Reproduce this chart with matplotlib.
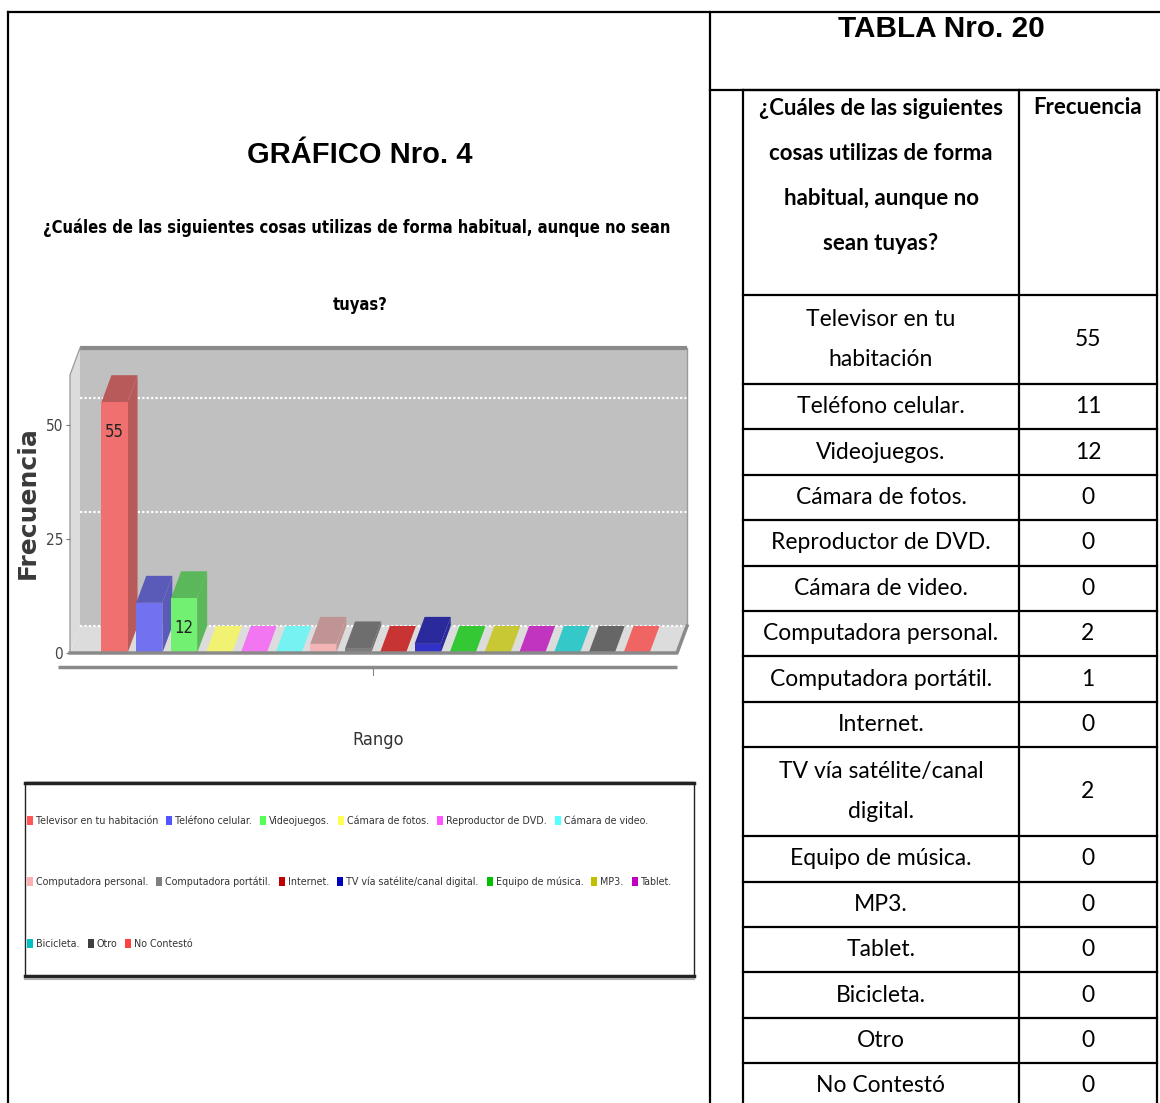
import textwrap
import matplotlib
matplotlib.use("Agg")
import matplotlib.pyplot as plt
from matplotlib import font_manager
from matplotlib.patches import Polygon, Rectangle

# ------------------------------------------------------------
# Data
# ------------------------------------------------------------
categorias = [
    "Televisor en tu habitación", "Teléfono celular.", "Videojuegos.",
    "Cámara de fotos.", "Reproductor de DVD.", "Cámara de video.",
    "Computadora personal.", "Computadora portátil.", "Internet.",
    "TV vía satélite/canal digital.", "Equipo de música.", "MP3.",
    "Tablet.", "Bicicleta.", "Otro", "No Contestó",
]
frecuencias = [55, 11, 12, 0, 0, 0, 2, 1, 0, 2, 0, 0, 0, 0, 0, 0]
yticks = [0, 25, 50]

titulo_grafico = "GRÁFICO Nro. 4"
pregunta = "¿Cuáles de las siguientes cosas utilizas de forma habitual, aunque no sean\ntuyas?"
titulo_tabla = "TABLA Nro. 20"
encabezado = ["¿Cuáles de las siguientes\ncosas utilizas de forma\nhabitual, aunque no\nsean tuyas?", "Frecuencia"]
eje_x = "Rango"
eje_y = "Frecuencia"

# colours (legend swatches and shaded 3D bars)
col_leyenda = ["#FF5555", "#5555FF", "#55FF55", "#FFFF55", "#FF55FF", "#55FFFF",
               "#FFAFAF", "#808080", "#C00000", "#0000C0", "#00C000", "#C0C000",
               "#C000C0", "#00C0C0", "#404040", "#FF4040"]
col_frente = ["#F07070", "#7272F0", "#72F072", "#F2F272", "#F276F2", "#76F2F2",
              "#F2B4B4", "#7E7E7E", "#C83434", "#3232C8", "#34C834", "#C8C834",
              "#C034C0", "#34C8C8", "#666666", "#F06464"]
col_sombra = ["#B85A5A", "#5A5AB8", "#5AB85A", "#B8B85A", "#B85AB8", "#5AB8B8",
              "#C09494", "#6E6E6E", "#9A2828", "#2A2A9C", "#289A28", "#9A9A28",
              "#942894", "#289A9A", "#555555", "#B84C4C"]

# ------------------------------------------------------------
# Fonts
# ------------------------------------------------------------
nombres = {f.name for f in font_manager.fontManager.ttflist}
NARROW = "Liberation Sans Narrow" if "Liberation Sans Narrow" in nombres else "DejaVu Sans"
STRETCH = "normal" if NARROW == "Liberation Sans Narrow" else "condensed"
CAL = "Lato" if "Lato" in nombres else "DejaVu Sans"
ARIAL = "Liberation Sans"

W, H = 1160, 1103
fig = plt.figure(figsize=(W / 100, H / 100), dpi=100)
page = fig.add_axes([0, 0, 1, 1])
page.set_xlim(0, W)
page.set_ylim(H, 0)
page.axis("off")
renderer = fig.canvas.get_renderer()


def fit_text(x, y, s, width, size0=20, **kw):
    t = page.text(x, y, s, fontsize=size0, **kw)
    w = t.get_window_extent(renderer).width
    t.set_fontsize(size0 * width / w)
    return t


# ------------------------------------------------------------
# Page frame
# ------------------------------------------------------------
lw_frame = 1.6
page.plot([8, 8], [12, H], color="black", lw=lw_frame)
page.plot([8, W], [12, 12], color="black", lw=lw_frame)
page.plot([710, 710], [12, H], color="black", lw=lw_frame)
page.plot([710, W], [90, 90], color="black", lw=lw_frame)

# ------------------------------------------------------------
# Left side: titles
# ------------------------------------------------------------
page.text(360, 155, titulo_grafico, family=ARIAL, fontweight="bold",
          fontsize=21, ha="center", va="center")
l1, l2 = pregunta.split("\n")
t1 = fit_text(357, 233, l1, 629, family=NARROW, fontstretch=STRETCH,
              fontweight="bold", ha="center", va="baseline")
page.text(360, 310, l2, family=NARROW, fontstretch=STRETCH, fontweight="bold",
          fontsize=t1.get_fontsize(), ha="center", va="baseline")

# ------------------------------------------------------------
# 3D bar chart
# ------------------------------------------------------------
fx0, fx1, fy_top, fy0 = 70, 677, 375, 653   # front plane in pixels
pitch, bar_w = 34.8, 0.75
first_center = 114.5
dep_x, dep_y = 10, 27                       # 3D depth in pixels

xmin = (fx0 - first_center) / pitch
xmax = (fx1 - first_center) / pitch
px_y = 4.56
ymax = (fy0 - fy_top) / px_y
ddx, ddy = dep_x / pitch, dep_y / px_y

ax = fig.add_axes([fx0 / W, 1 - fy0 / H, (fx1 - fx0) / W, (fy0 - fy_top) / H])
ax.set_xlim(xmin, xmax)
ax.set_ylim(0, ymax)
ax.patch.set_visible(False)
for s in ax.spines.values():
    s.set_visible(False)

# walls and floor
ax.add_patch(Rectangle((xmin + ddx, ddy), xmax - xmin, ymax, facecolor="#C0C0C0",
                       edgecolor="none", clip_on=False, zorder=0))
ax.add_patch(Polygon([(xmin, 0), (xmin + ddx, ddy), (xmin + ddx, ymax + ddy), (xmin, ymax)],
                     facecolor="#DCDCDC", edgecolor="none", clip_on=False, zorder=0))
ax.add_patch(Polygon([(xmin, 0), (xmax, 0), (xmax + ddx, ddy), (xmin + ddx, ddy)],
                     facecolor="#DCDCDC", edgecolor="none", clip_on=False, zorder=0))
for t in yticks:
    ax.plot([xmin + ddx, xmax + ddx], [t + ddy, t + ddy], color="white", lw=1.6,
            ls=(0, (1, 1)), clip_on=False, zorder=1)
ax.plot([xmin + ddx, xmax + ddx], [ymax + ddy, ymax + ddy], color="#8A8A8A", lw=3,
        clip_on=False, zorder=1, solid_capstyle="butt")
ax.plot([xmax + ddx, xmax + ddx], [ddy, ymax + ddy], color="#9A9A9A", lw=1,
        clip_on=False, zorder=1)
ax.plot([xmin, xmin, xmin + ddx], [0, ymax, ymax + ddy], color="#A0A0A0", lw=1,
        clip_on=False, zorder=1)
ax.plot([xmin, xmax, xmax + ddx], [0, 0, ddy], color="#8A8A8A", lw=2.5,
        clip_on=False, zorder=4)

# bars
for i, (v, cf, cs) in enumerate(zip(frecuencias, col_frente, col_sombra)):
    x0, x1 = i - bar_w / 2, i + bar_w / 2
    top_col = cs if v > 0 else cf
    ax.add_patch(Polygon([(x1, 0), (x1 + ddx, ddy), (x1 + ddx, v + ddy), (x1, v)],
                         facecolor=cs, edgecolor="none", clip_on=False, zorder=2))
    ax.add_patch(Polygon([(x0, v), (x1, v), (x1 + ddx, v + ddy), (x0 + ddx, v + ddy)],
                         facecolor=top_col, edgecolor="none", clip_on=False, zorder=2))
ax.bar(range(len(frecuencias)), frecuencias, width=bar_w, color=col_frente,
       edgecolor="none", zorder=3)

# value labels where they fit inside the bar
for i, v in enumerate(frecuencias):
    if v * px_y > 52:
        ax.annotate(str(v), (i, v), xytext=(0, -30), textcoords="offset pixels",
                    ha="center", va="center", family=NARROW, fontstretch=STRETCH,
                    fontsize=12, color="#222222", zorder=5)

ax.set_yticks(yticks)
ax.set_yticklabels([str(t) for t in yticks], family=NARROW, fontstretch=STRETCH,
                   fontsize=11, color="#444444")
ax.tick_params(axis="y", length=3, color="#777777", pad=2)
ax.set_xticks([])

# category axis below the floor
y_axis = -(667 - fy0) / px_y
ax.plot([(58 - first_center) / pitch, xmax], [y_axis, y_axis], color="#8A8A8A", lw=2.5,
        clip_on=False, solid_capstyle="butt")
xc = (xmin + xmax) / 2
ax.plot([xc, xc], [y_axis, y_axis - 4 / px_y * 2], color="#888888", lw=0.8, clip_on=False)

page.text(378, 740, eje_x, family=NARROW, fontstretch=STRETCH, fontsize=13,
          color="#333333", ha="center", va="center")
page.text(28, 503, eje_y, family="DejaVu Sans", fontweight="bold", fontsize=18,
          color="#3A3A3A", rotation=90, ha="center", va="center")

# ------------------------------------------------------------
# Legend (flow layout, three rows)
# ------------------------------------------------------------
lx0, lx1, ly0, ly1 = 25, 694, 782, 977
page.add_patch(Rectangle((lx0, ly0), lx1 - lx0, ly1 - ly0, facecolor="white",
                         edgecolor="#222222", lw=1))
page.plot([lx0, lx1], [ly0 + 1, ly0 + 1], color="#222222", lw=2.5)
page.plot([lx0, lx1], [ly1 - 1, ly1 - 1], color="#222222", lw=2.5)
page.plot([lx0, lx1], [ly1 + 2, ly1 + 2], color="#AAAAAA", lw=1.5)

filas_leyenda = [6, 7, 3]
fila_y = [821, 882, 944]


def leyenda(size, draw):
    widest = 0
    k = 0
    arts = []
    for n, y in zip(filas_leyenda, fila_y):
        x = 27
        for _ in range(n):
            if draw:
                page.add_patch(Rectangle((x, y - size * 0.62), 6, size * 1.2,
                                         facecolor=col_leyenda[k], edgecolor="none"))
            t = page.text(x + 9, y, categorias[k], family=NARROW, fontstretch=STRETCH,
                          fontsize=size, color="#333333", ha="left", va="center")
            wpx = t.get_window_extent(renderer).width
            if not draw:
                arts.append(t)
            x = x + 9 + wpx + 8
            k += 1
        widest = max(widest, x)
    for t in arts:
        t.remove()
    return widest


s0 = 12
wmax = leyenda(s0, False)
size_ley = s0 * (640 - 27) / (wmax - 27)
leyenda(size_ley, True)

# ------------------------------------------------------------
# Right side: table
# ------------------------------------------------------------
page.text(941, 29, titulo_tabla, family=ARIAL, fontweight="bold", fontsize=21.4,
          ha="center", va="center")

tx0, tx1, tx2 = 743, 1019, 1157
top = 90
head_h = 205
alto_1, alto_2 = 45.4, 89

filas = [textwrap.fill(c, 21) for c in categorias]
bordes = [top, top + head_h]
for f in filas:
    bordes.append(bordes[-1] + (alto_2 if "\n" in f else alto_1))

for yb in bordes:
    if yb < H:
        page.plot([tx0, tx2], [yb, yb], color="black", lw=lw_frame)
for xb in (tx0, tx1, tx2):
    page.plot([xb, xb], [top, H], color="black", lw=lw_frame)

page.text((tx0 + tx1) / 2, 176, encabezado[0], family=CAL, fontweight="bold",
          fontsize=16, ha="center", va="center", linespacing=2.4)
page.text((tx1 + tx2) / 2, 107, encabezado[1], family=CAL, fontweight="bold",
          fontsize=16, ha="center", va="center")

for f, v, ya, yb in zip(filas, frecuencias, bordes[1:-1], bordes[2:]):
    yc = (ya + yb) / 2
    page.text((tx0 + tx1) / 2, yc, f, family=CAL, fontsize=16.5, ha="center",
              va="center", linespacing=2.15)
    page.text((tx1 + tx2) / 2, yc, str(v), family=CAL, fontsize=16.5, ha="center",
              va="center")

fig.savefig("out.png", dpi=100)
